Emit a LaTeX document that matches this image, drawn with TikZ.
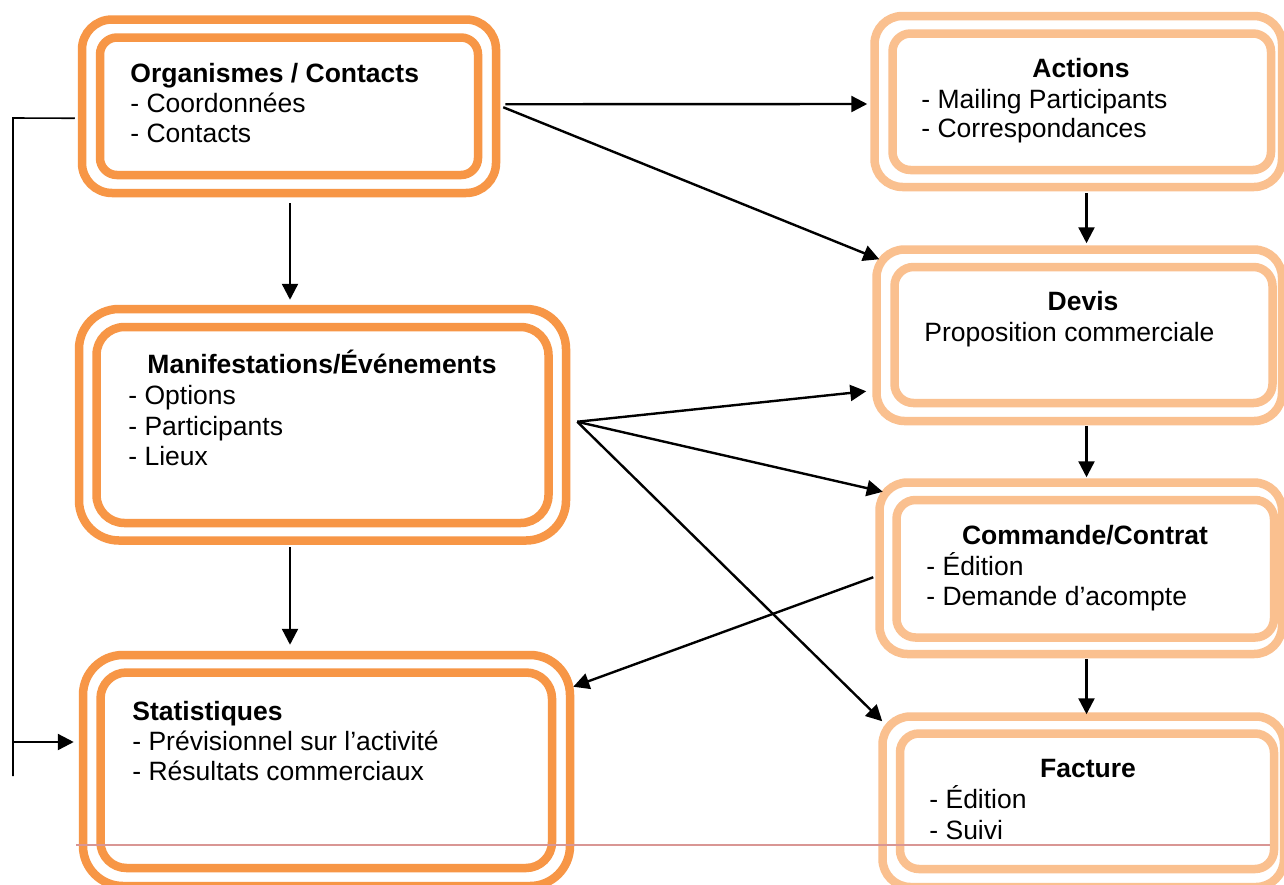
\documentclass[tikz,border=0pt]{standalone}
\usepackage{fontspec}
\setmainfont{Liberation Sans}
\usetikzlibrary{arrows.meta,fit,calc}
\definecolor{darkor}{HTML}{F79646}
\definecolor{lightor}{HTML}{FAC08F}
\definecolor{pinkline}{HTML}{D99694}
\tikzset{
  ring/.style 2 args={draw=#1, line width=4.25pt, inner sep=0pt, rounded corners=#2},
  txt/.style={anchor=base west, inner sep=0pt, font=\fontsize{13.25}{16}\selectfont},
  ttlw/.style={anchor=base west, inner sep=0pt, font=\fontsize{13.25}{16}\selectfont\bfseries},
  ttlc/.style={anchor=base, inner sep=0pt, font=\fontsize{13.25}{16}\selectfont\bfseries},
  arr/.style={line width=1.2pt, -{Triangle[length=8pt,width=8pt]}},
  brk/.style={line width=0.8pt},
}
\begin{document}
\begin{tikzpicture}[x=0.5pt,y=-0.5pt]
\useasboundingbox (0,0) rectangle (1284,884);
\fill[white] (0,0) rectangle (1284,884);
\clip (0,0) rectangle (1284,884);

% left column boxes
\node[ring={darkor}{15pt}, fit={(82,19.5) (496,193)}] (org) {};
\node[ring={darkor}{8.5pt}, fit={(100,37.5) (478,175)}] (orgi) {};
\node[ring={darkor}{20pt}, fit={(79,309) (566,540.5)}] (man) {};
\node[ring={darkor}{14pt}, fit={(96.5,327) (548.5,523)}] (mani) {};
\node[ring={darkor}{20pt}, fit={(83,655) (570,886)}] (sta) {};
\node[ring={darkor}{13pt}, fit={(100.5,672.5) (552,868)}] (stai) {};

% right column boxes
\node[ring={lightor}{14pt}, fit={(874.5,16) (1282,187)}] (act) {};
\node[ring={lightor}{9pt}, fit={(892.5,33.5) (1271,170)}] (acti) {};
\node[ring={lightor}{14pt}, fit={(876.5,249.5) (1282,421)}] (dev) {};
\node[ring={lightor}{9.5pt}, fit={(894.5,267) (1272.5,403)}] (devi) {};
\node[ring={lightor}{14pt}, fit={(879.5,482.5) (1282,654)}] (com) {};
\node[ring={lightor}{9.5pt}, fit={(896.5,500) (1274,637.5)}] (comi) {};
\node[ring={lightor}{14pt}, fit={(882.5,716.5) (1284,887)}] (fac) {};
\node[ring={lightor}{9.5pt}, fit={(900,733.5) (1274,869)}] (faci) {};

% texts
\node[ttlw] (t1a) at (130,82) {Organismes / Contacts};
\node[txt] (t1b) at (130,112) {- Coordonnées};
\node[txt] (t1c) at (130,142) {- Contacts};

\node[ttlc] (t2a) at (322,373) {Manifestations/Événements};
\node[txt] (t2b) at (128,404) {- Options};
\node[txt] (t2c) at (128,435) {- Participants};
\node[txt] (t2d) at (128,465) {- Lieux};

\node[ttlw] (t3a) at (132,720) {Statistiques};
\node[txt] (t3b) at (132,750) {- Prévisionnel sur l’activité};
\node[txt] (t3c) at (132,780) {- Résultats commerciaux};

\node[ttlc] (t4a) at (1081,77) {Actions};
\node[txt] (t4b) at (921,108) {- Mailing Participants};
\node[txt] (t4c) at (921,137) {- Correspondances};

\node[ttlc] (t5a) at (1083,310) {Devis};
\node[txt] (t5b) at (924,341) {Proposition commerciale};

\node[ttlc] (t6a) at (1085,544) {Commande/Contrat};
\node[txt] (t6b) at (926,575) {- Édition};
\node[txt] (t6c) at (926,605) {- Demande d’acompte};

\node[ttlc] (t7a) at (1088,777) {Facture};
\node[txt] (t7b) at (929,808) {- Édition};
\node[txt] (t7c) at (929,839) {- Suivi};

% pink rule
\coordinate (pl1) at (76,845);
\coordinate (pl2) at (1270,845);
\draw[pinkline, line width=1pt] (pl1) -- (pl2);

% connectors
\draw[arr] ($(org.east)+(5,-2)$) -- ($(act.west)+(-3,2.5)$);
\draw[arr] ($(org.east)+(3,1)$) -- ($(dev.north west)+(7,14)$);
\coordinate (a3) at ($(org.south)+(1,6)$);
\draw[arr] (a3) -- ($(a3 |- man.north)+(0,-5)$);
\coordinate (a4) at ($(man.south)+(-32.5,2.5)$);
\draw[arr] (a4) -- ($(a4 |- sta.north)+(0,-6)$);
\coordinate (ms) at ($(man.east)+(7,-3)$);
\draw[arr] (ms) -- ($(dev.south west)+(-6,-34)$);
\draw[arr] (ms) -- ($(com.north west)+(7.5,13.5)$);
\draw[arr] (ms) -- ($(fac.north west)+(4,9)$);
\draw[arr] ($(com.west)+(-2,9)$) -- ($(sta.north east)+(-1,36)$);
\coordinate (a9) at ($(act.south)+(8.25,1.75)$);
\draw[arr] (a9) -- ($(a9 |- dev.north)+(0,-2)$);
\coordinate (a10) at ($(dev.south)+(7.25,0.5)$);
\draw[arr] (a10) -- ($(a10 |- com.north)+(0,-1)$);
\coordinate (a11) at ($(com.south)+(5.75,1)$);
\draw[arr] (a11) -- ($(a11 |- fac.north)+(0,2)$);

% left bracket
\coordinate (bkTop) at (13,118);
\coordinate (bkBot) at (13,776);
\coordinate (bkArr) at (13,742);
\draw[brk] ($(org.west)+(-3,12)$) -- (bkTop) -- (bkBot);
\draw[arr] (bkArr) -- ($(bkArr -| sta.west)+(-5,0)$);
\end{tikzpicture}
\end{document}
